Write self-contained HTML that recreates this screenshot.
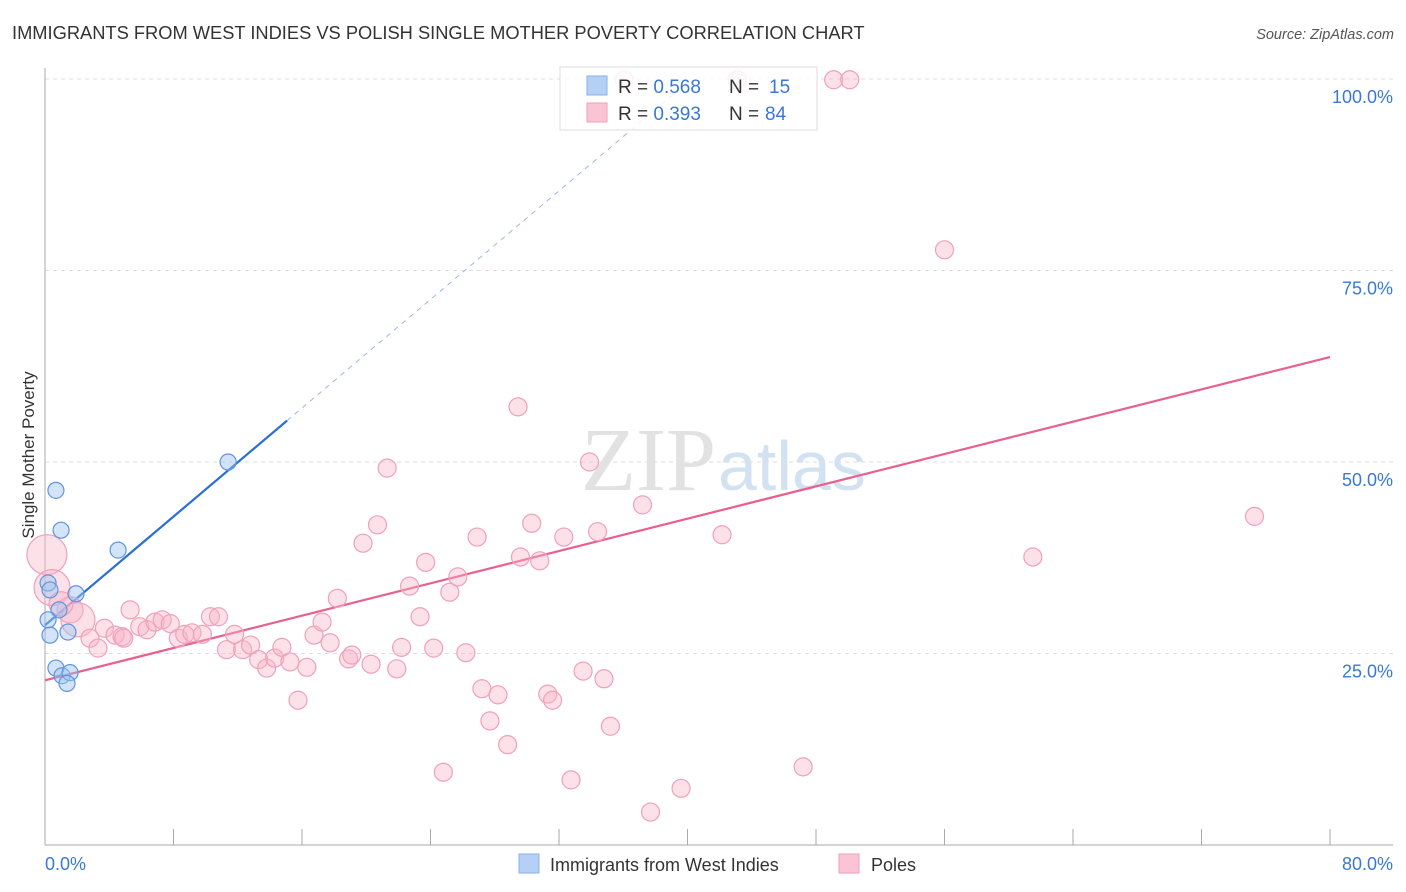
<!DOCTYPE html>
<html><head><meta charset="utf-8"><style>
body{margin:0;background:#fff;font-family:"Liberation Sans",sans-serif}
</style></head><body>
<svg width="1406" height="892" xmlns="http://www.w3.org/2000/svg" style="display:block">
<text x="12" y="39" font-size="18.3" fill="#333">IMMIGRANTS FROM WEST INDIES VS POLISH SINGLE MOTHER POVERTY CORRELATION CHART</text>
<text x="1394" y="39" font-size="14.5" fill="#555" font-style="italic" text-anchor="end">Source: ZipAtlas.com</text>
<text x="716" y="490" font-size="90" fill="#e2e2e2" text-anchor="end" font-family="Liberation Serif">ZIP</text>
<text x="718" y="490" font-size="70" fill="#d3e2f3">atlas</text>
<g id="grid"></g>
<g id="axes"></g>
<g id="lines"></g>
<g id="pts"></g>
<text transform="translate(34,455) rotate(-90)" font-size="17" fill="#333" text-anchor="middle">Single Mother Poverty</text>
<g>
<rect x="560" y="67" width="257" height="63" fill="#fff" fill-opacity="0.85" stroke="#ddd"/>
<rect x="587" y="76" width="20" height="19" fill="#b5d0f5" stroke="#8ab0e8"/>
<rect x="587" y="103" width="20" height="19" fill="#fac4d4" stroke="#f0a0b8"/>
<text x="618" y="93" font-size="19" fill="#333">R = <tspan fill="#3a78d6">0.568</tspan></text>
<text x="729" y="93" font-size="19" fill="#333">N = </text>
<text x="769" y="93" font-size="19" fill="#3a78d6">15</text>
<text x="618" y="120" font-size="19" fill="#333">R = <tspan fill="#3a78d6">0.393</tspan></text>
<text x="729" y="120" font-size="19" fill="#333">N = </text>
<text x="765" y="120" font-size="19" fill="#3a78d6">84</text>
</g>
<g>
<rect x="519" y="854" width="20" height="19" fill="#b5d0f5" stroke="#8ab0e8"/>
<text x="550" y="871" font-size="18" fill="#333">Immigrants from West Indies</text>
<rect x="839" y="854" width="20" height="19" fill="#fac4d4" stroke="#f0a0b8"/>
<text x="871" y="871" font-size="18" fill="#333">Poles</text>
</g>
</svg>
<script>
const xTicks=[0,8,16,24,32,40,48,56,64,72,80];
const yTicks=[25,50,75,100];
const yTickLabels=["25.0%","50.0%","75.0%","100.0%"];
const blueX=[0.19,0.31,0.31,0.68,1.0,0.87,1.43,1.93,0.68,1.06,1.56,1.37,4.55,11.4,0.19];
const blueY=[34.2,33.3,27.4,46.3,41.1,30.7,27.8,32.8,23.1,22.1,22.5,21.1,38.5,50.0,29.4];
const pinkX=[0.12,0.44,1.56,2.05,2.8,3.3,3.7,4.36,4.8,5.3,5.9,6.35,6.85,7.3,7.8,8.3,8.7,9.15,9.8,10.3,10.8,11.3,11.8,12.3,12.8,13.3,13.8,14.3,14.75,15.25,15.75,16.3,16.75,17.25,17.75,18.2,18.9,19.1,19.8,20.3,20.7,21.3,21.9,22.2,22.7,23.35,23.7,24.2,24.8,25.2,25.7,26.2,26.9,27.2,27.7,28.2,28.8,29.45,29.6,30.3,30.8,31.3,31.6,32.3,32.75,33.5,33.9,34.4,34.8,35.2,36.05,37.2,37.7,39.6,42.15,43.1,47.2,49.1,50.1,56.0,61.5,75.3,1.0,4.9];
const pinkY=[37.9,33.6,30.7,29.4,27.0,25.7,28.3,27.4,27.2,30.7,28.5,28.1,29.1,29.4,28.9,27.0,27.5,27.7,27.5,29.8,29.8,25.5,27.5,25.5,26.1,24.2,23.1,24.4,25.8,23.9,18.9,23.2,27.4,29.1,26.4,32.2,24.3,24.8,39.4,23.6,41.8,49.2,23.0,25.8,33.8,29.8,36.9,25.7,9.5,33.0,35.0,25.1,40.2,20.4,16.2,19.6,13.1,57.2,37.6,42.0,37.1,19.7,18.9,40.2,8.5,22.7,50.0,40.9,21.7,15.5,99.9,44.4,4.3,7.4,40.5,99.9,10.2,99.9,99.9,77.7,37.6,42.9,31.5,27.0];
const pinkR=[20,18,13,17,9,9,9,9,9,9,9,9,9,9,9,9,9,9,9,9,9,9,9,9,9,9,9,9,9,9,9,9,9,9,9,9,9,9,9,9,9,9,9,9,9,9,9,9,9,9,9,9,9,9,9,9,9,9,9,9,9,9,9,9,9,9,9,9,9,9,9,9,9,9,9,9,9,9,9,9,9,9,12,9];
const blueFit=[28.7,55.4], blueFitEnd=15.07;
const pinkFit=[21.5,63.7];
const X=v=>45+v*(1285/80), Y=v=>845-v*(766/100);
const NS="http://www.w3.org/2000/svg";
function mk(p,t,a){const e=document.createElementNS(NS,t);for(const k in a)e.setAttribute(k,a[k]);p.appendChild(e);return e;}
const grid=document.getElementById('grid'),axes=document.getElementById('axes'),lines=document.getElementById('lines'),pts=document.getElementById('pts');
yTicks.forEach((t,i)=>{
 const l=mk(grid,'line',{x1:45,x2:1393,y1:Y(t),y2:Y(t),stroke:'#ddd','stroke-dasharray':'4,4'});
 
 
 const tx=mk(grid,'text',{x:1393,y:Y(t)+24,'font-size':18,fill:'#3a78d6','text-anchor':'end'});
 tx.textContent=yTickLabels[i];
 
 
});
const ya=mk(axes,'line',{x1:45,x2:45,y1:68,y2:845,stroke:'#aaa'});


const xa=mk(axes,'line',{x1:45,x2:1393,y1:845,y2:845,stroke:'#aaa'});


xTicks.forEach(t=>{
 const l=mk(axes,'line',{x1:X(t),x2:X(t),y1:829,y2:845,stroke:'#aaa'});
 
 
});
[[0,'start','0.0%'],[80,'end','80.0%']].forEach(d=>{
 const tx=mk(axes,'text',{x:d[0]==0?45:1393,y:870,'font-size':18,fill:'#3a78d6','text-anchor':d[1]});
 tx.textContent=d[2];
 
 
});
pinkX.forEach((v,i)=>{
 const c=mk(pts,'circle',{cx:X(v),cy:Y(pinkY[i]),r:pinkR[i],fill:'rgba(248,180,200,0.4)',stroke:'#f0a0bb','stroke-width':1.2});
 
 
});
blueX.forEach((v,i)=>{
 const c=mk(pts,'circle',{cx:X(v),cy:Y(blueY[i]),r:8,fill:'rgba(160,196,240,0.45)',stroke:'#5f95dd','stroke-width':1.2});
 
 
});
const slope=(blueFit[1]-blueFit[0])/blueFitEnd;
const dl=mk(lines,'line',{x1:X(blueFitEnd),y1:Y(blueFit[1]),x2:X(blueFitEnd+(100-blueFit[1])/slope),y2:Y(100),stroke:'#9ab8e0','stroke-dasharray':'5,5'});


const bl=mk(lines,'line',{x1:X(0),y1:Y(blueFit[0]),x2:X(blueFitEnd),y2:Y(blueFit[1]),stroke:'#2a6fd6','stroke-width':2.2});


const pl=mk(lines,'line',{x1:X(0),y1:Y(pinkFit[0]),x2:X(80),y2:Y(pinkFit[1]),stroke:'#e8608e','stroke-width':2.2});


</script>
</body></html>
